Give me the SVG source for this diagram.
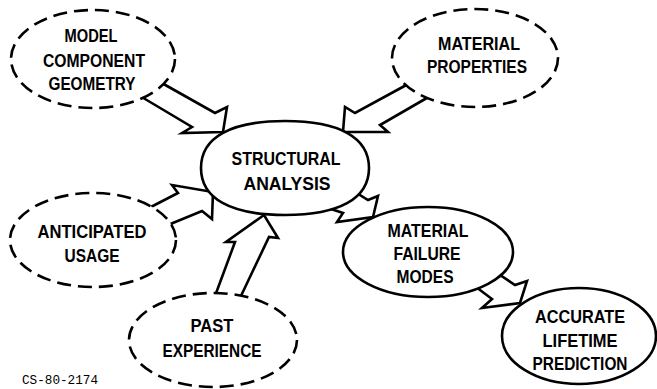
<svg xmlns="http://www.w3.org/2000/svg" width="657" height="389" viewBox="0 0 657 389">
<style>
.dash{fill:#fff;stroke:#000;stroke-width:2.6;stroke-dasharray:14 7}
.solid{fill:#fff;stroke:#000;stroke-width:2.6}
.arr{fill:#fff;stroke:#000;stroke-width:2.6;stroke-linejoin:miter}
text{font-family:"Liberation Sans",Arial,sans-serif;font-weight:bold;font-size:18px;text-anchor:middle;fill:#000}
.code{font-family:"Liberation Mono","Courier New",monospace;font-weight:normal;font-size:12px;text-anchor:start}
</style>
<rect width="657" height="389" fill="#fff"/>
<g id="connectors">
<polyline class="arr" points="140,96 192,127 182,133 223,132 227,107 215,113 160,82"/>
<polyline class="arr" points="410,83 355,113 345,107 343,132 388,132 380,125 432,95"/>
<polyline class="arr" points="147,209 178,193 172,185 213,192 212,219 202,211 168,225"/>
<polyline class="arr" points="215,296 235,242 226,242 264,215 278,238 269,237 240,298"/>
<polyline class="arr" points="322,206 343,213 337,222 373,217 378,196 368,200 352,190"/>
<polyline class="arr" points="472,284 492,299 482,308 520,303 527,281 515,285 494,271"/>
</g>
<g id="model">
<ellipse class="dash" cx="93" cy="59" rx="82" ry="49"/>
<text x="91" y="42" textLength="53" lengthAdjust="spacingAndGlyphs">MODEL</text>
<text x="94" y="67" textLength="102" lengthAdjust="spacingAndGlyphs">COMPONENT</text>
<text x="92" y="90" textLength="87" lengthAdjust="spacingAndGlyphs">GEOMETRY</text>
</g>
<g id="properties">
<ellipse class="dash" cx="475" cy="58" rx="83" ry="49"/>
<text x="479" y="50" textLength="82" lengthAdjust="spacingAndGlyphs">MATERIAL</text>
<text x="477" y="73" textLength="100" lengthAdjust="spacingAndGlyphs">PROPERTIES</text>
</g>
<g id="usage">
<ellipse class="dash" cx="93" cy="240" rx="83" ry="47"/>
<text x="92" y="238" textLength="109" lengthAdjust="spacingAndGlyphs">ANTICIPATED</text>
<text x="92" y="262" textLength="55" lengthAdjust="spacingAndGlyphs">USAGE</text>
</g>
<g id="experience">
<ellipse class="dash" cx="213" cy="340" rx="84" ry="47"/>
<text x="212" y="332" textLength="43" lengthAdjust="spacingAndGlyphs">PAST</text>
<text x="212" y="357" textLength="99" lengthAdjust="spacingAndGlyphs">EXPERIENCE</text>
</g>
<g id="structural">
<path class="solid" d="M201,168 C201,137.45 230.4,121 285,121 C339.6,121 369,137.45 369,168 C369,198.55 339.6,215 285,215 C230.4,215 201,198.55 201,168 Z"/>
<text x="286" y="165" textLength="109" lengthAdjust="spacingAndGlyphs">STRUCTURAL</text>
<text x="287" y="190" textLength="87" lengthAdjust="spacingAndGlyphs">ANALYSIS</text>
</g>
<g id="failure">
<ellipse class="solid" cx="428" cy="252" rx="85" ry="45"/>
<text x="428" y="237" textLength="81" lengthAdjust="spacingAndGlyphs">MATERIAL</text>
<text x="427" y="260" textLength="67" lengthAdjust="spacingAndGlyphs">FAILURE</text>
<text x="425" y="283" textLength="57" lengthAdjust="spacingAndGlyphs">MODES</text>
</g>
<g id="lifetime">
<ellipse class="solid" cx="579" cy="336" rx="77" ry="48"/>
<text x="580" y="323" textLength="90" lengthAdjust="spacingAndGlyphs">ACCURATE</text>
<text x="580" y="347" textLength="75" lengthAdjust="spacingAndGlyphs">LIFETIME</text>
<text x="580" y="370" textLength="95" lengthAdjust="spacingAndGlyphs">PREDICTION</text>
</g>
<text class="code" x="22" y="384" textLength="76" lengthAdjust="spacingAndGlyphs">CS-80-2174</text>
</svg>
